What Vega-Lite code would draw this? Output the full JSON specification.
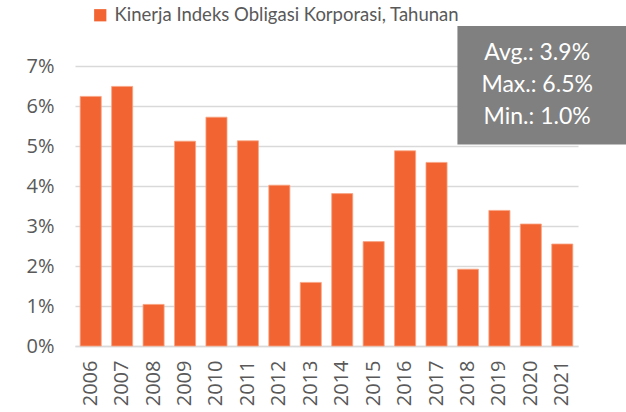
{
  "$schema": "https://vega.github.io/schema/vega-lite/v6.json",
  "width": 503,
  "height": 280,
  "autosize": {"type": "none"},
  "padding": {"left": 75, "top": 66, "right": 48, "bottom": 66},
  "background": "white",
  "config": {
    "view": {"stroke": null},
    "font": "Open Sans"
  },
  "data": {
    "values": [
      {"year": "2006", "value": 0.0624, "series": "Kinerja Indeks Obligasi Korporasi, Tahunan"},
      {"year": "2007", "value": 0.0649, "series": "Kinerja Indeks Obligasi Korporasi, Tahunan"},
      {"year": "2008", "value": 0.0104, "series": "Kinerja Indeks Obligasi Korporasi, Tahunan"},
      {"year": "2009", "value": 0.0512, "series": "Kinerja Indeks Obligasi Korporasi, Tahunan"},
      {"year": "2010", "value": 0.0572, "series": "Kinerja Indeks Obligasi Korporasi, Tahunan"},
      {"year": "2011", "value": 0.0513, "series": "Kinerja Indeks Obligasi Korporasi, Tahunan"},
      {"year": "2012", "value": 0.0402, "series": "Kinerja Indeks Obligasi Korporasi, Tahunan"},
      {"year": "2013", "value": 0.0159, "series": "Kinerja Indeks Obligasi Korporasi, Tahunan"},
      {"year": "2014", "value": 0.0381, "series": "Kinerja Indeks Obligasi Korporasi, Tahunan"},
      {"year": "2015", "value": 0.0261, "series": "Kinerja Indeks Obligasi Korporasi, Tahunan"},
      {"year": "2016", "value": 0.0488, "series": "Kinerja Indeks Obligasi Korporasi, Tahunan"},
      {"year": "2017", "value": 0.0459, "series": "Kinerja Indeks Obligasi Korporasi, Tahunan"},
      {"year": "2018", "value": 0.0192, "series": "Kinerja Indeks Obligasi Korporasi, Tahunan"},
      {"year": "2019", "value": 0.0339, "series": "Kinerja Indeks Obligasi Korporasi, Tahunan"},
      {"year": "2020", "value": 0.0305, "series": "Kinerja Indeks Obligasi Korporasi, Tahunan"},
      {"year": "2021", "value": 0.0255, "series": "Kinerja Indeks Obligasi Korporasi, Tahunan"}
    ]
  },
  "encoding": {
    "x": {
      "field": "year",
      "type": "nominal",
      "scale": {"paddingInner": 0.33, "paddingOuter": 0.165},
      "axis": {
        "title": null,
        "labelAngle": -90,
        "labelFontSize": 20,
        "labelColor": "#595959",
        "labelPadding": 14,
        "ticks": false,
        "domainColor": "#d9d9d9",
        "domainWidth": 1.5,
        "labelBaseline": "middle"
      }
    },
    "y": {
      "field": "value",
      "type": "quantitative",
      "scale": {"domain": [0, 0.07], "nice": false},
      "axis": {
        "title": null,
        "format": ".0%",
        "values": [0, 0.01, 0.02, 0.03, 0.04, 0.05, 0.06, 0.07],
        "labelFontSize": 20,
        "labelColor": "#595959",
        "labelPadding": 21,
        "ticks": false,
        "domain": false,
        "grid": true,
        "gridColor": "#d9d9d9",
        "gridWidth": 1.5
      }
    }
  },
  "layer": [
    {
      "mark": {"type": "bar", "stroke": "#f8a584", "strokeWidth": 0.8},
      "encoding": {
        "color": {
          "field": "series",
          "type": "nominal",
          "scale": {"range": ["#f26532"]},
          "legend": {
            "title": null,
            "orient": "none",
            "legendX": 16,
            "legendY": -60,
            "symbolType": "square",
            "symbolSize": 150,
            "symbolStrokeWidth": 0,
            "labelFont": "Lato",
            "labelFontSize": 18.5,
            "labelColor": "#595959",
            "labelOffset": 5,
            "labelLimit": 500
          }
        }
      }
    },
    {
      "transform": [{"filter": "datum.year == '2021'"}],
      "mark": {"type": "rect", "fill": "#808080", "x2Offset": 90},
      "encoding": {
        "x": {"datum": "2018", "bandPosition": 0},
        "x2": {"datum": "2021"},
        "y": {"datum": 0.08},
        "y2": {"datum": 0.0504}
      }
    },
    {
      "transform": [{"filter": "datum.year == '2021'"}],
      "mark": {
        "type": "text",
        "fill": "white",
        "font": "Lato",
        "fontSize": 23,
        "fontWeight": "normal",
        "align": "center",
        "baseline": "middle",
        "lineHeight": 32,
        "text": ["Avg.: 3.9%", "Max.: 6.5%", "Min.: 1.0%"]
      },
      "encoding": {
        "x": {"datum": "2020", "bandPosition": 0.8},
        "y": {"datum": 0.0733}
      }
    }
  ]
}
